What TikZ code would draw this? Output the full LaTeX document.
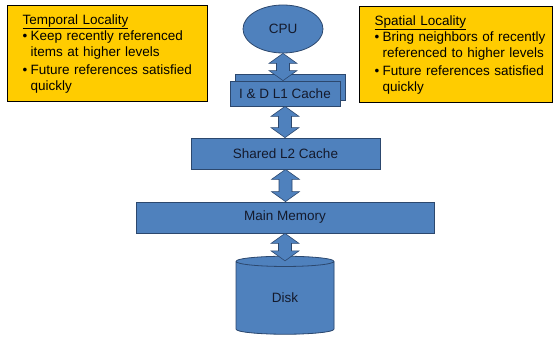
\documentclass[tikz,border=0pt]{standalone}
\usepackage{fontspec}
\setmainfont{Liberation Sans}
\usetikzlibrary{shapes.geometric,calc}
\definecolor{boxblue}{RGB}{79,129,189}
\definecolor{boxline}{RGB}{44,72,110}
\definecolor{disktop}{RGB}{149,179,215}
\definecolor{locyellow}{RGB}{255,204,0}
\definecolor{txtdark}{RGB}{20,26,44}

\newcommand{\bul}{\makebox[8pt][l]{\textbullet}}
\newcommand{\hang}{\hspace*{8pt}}
% double block arrow between two anchors (top one first)
\newcommand{\dblarrow}[2]{%
  \filldraw[blockarrow] let \p1=(#1), \p2=(#2) in
    (\x1,\y1) -- (\x1+14pt,\y1-10pt) -- (\x1+6.5pt,\y1-10pt)
    -- (\x1+6.5pt,\y2+10pt) -- (\x1+14pt,\y2+10pt) -- (\x1,\y2)
    -- (\x1-14pt,\y2+10pt) -- (\x1-6.5pt,\y2+10pt)
    -- (\x1-6.5pt,\y1-10pt) -- (\x1-14pt,\y1-10pt) -- cycle;}

\tikzset{
  blkbox/.style={rectangle, fill=boxblue, draw=boxline, line width=0.8pt,
    text=txtdark, font=\fontsize{13.5}{16}\selectfont, inner sep=0pt},
  locbox/.style={rectangle, fill=locyellow, draw=black, line width=1.2pt,
    anchor=north west, minimum height=96pt, inner xsep=15pt, inner ysep=0pt,
    align=left, font=\fontsize{13.5}{16}\selectfont},
  blockarrow/.style={fill=boxblue, draw=boxline, line width=0.6pt}
}

\begin{document}
\begin{tikzpicture}[x=1pt,y=-1pt]
\useasboundingbox (0,0) rectangle (556,339);

\node[locbox, text width=170pt] (temporal) at (7,5) {\underline{Temporal Locality}\\
  \mbox{\bul Keep recently referenced}\\
  \mbox{\hang items at higher levels}\\[2pt]
  \mbox{\bul Future references satisfied}\\
  \mbox{\hang quickly}};
\node[locbox, text width=163pt] (spatial) at (359,6) {\underline{Spatial Locality}\\
  \mbox{\bul Bring neighbors of recently}\\
  \mbox{\hang referenced to higher levels}\\[2pt]
  \mbox{\bul Future references satisfied}\\
  \mbox{\hang quickly}};

\node[blkbox, ellipse, minimum width=80pt, minimum height=48pt] (cpu) at (283,29) {CPU};
\node[blkbox, minimum width=110pt, minimum height=26pt] (l1back) at (290,87) {};
\node[blkbox, minimum width=110pt, minimum height=25pt] (l1) at (285,93.5) {I \& D L1 Cache};
\node[blkbox, minimum width=189pt, minimum height=31pt] (l2) at (285.5,153.5) {Shared L2 Cache};
\node[blkbox, minimum width=298pt, minimum height=31pt] (mm) at (285,217.5) {Main Memory};
\node[blkbox, cylinder, shape border rotate=90, aspect=0.39, minimum width=98pt,
  minimum height=78pt, cylinder uses custom fill, cylinder body fill=boxblue,
  cylinder end fill=disktop] (disk) at (285,298) {Disk};

\dblarrow{cpu.south}{l1.north}
\dblarrow{l1.south}{l2.north}
\dblarrow{l2.south}{mm.north}
\dblarrow{mm.south}{$(disk.north)+(0,5)$}

\end{tikzpicture}
\end{document}
